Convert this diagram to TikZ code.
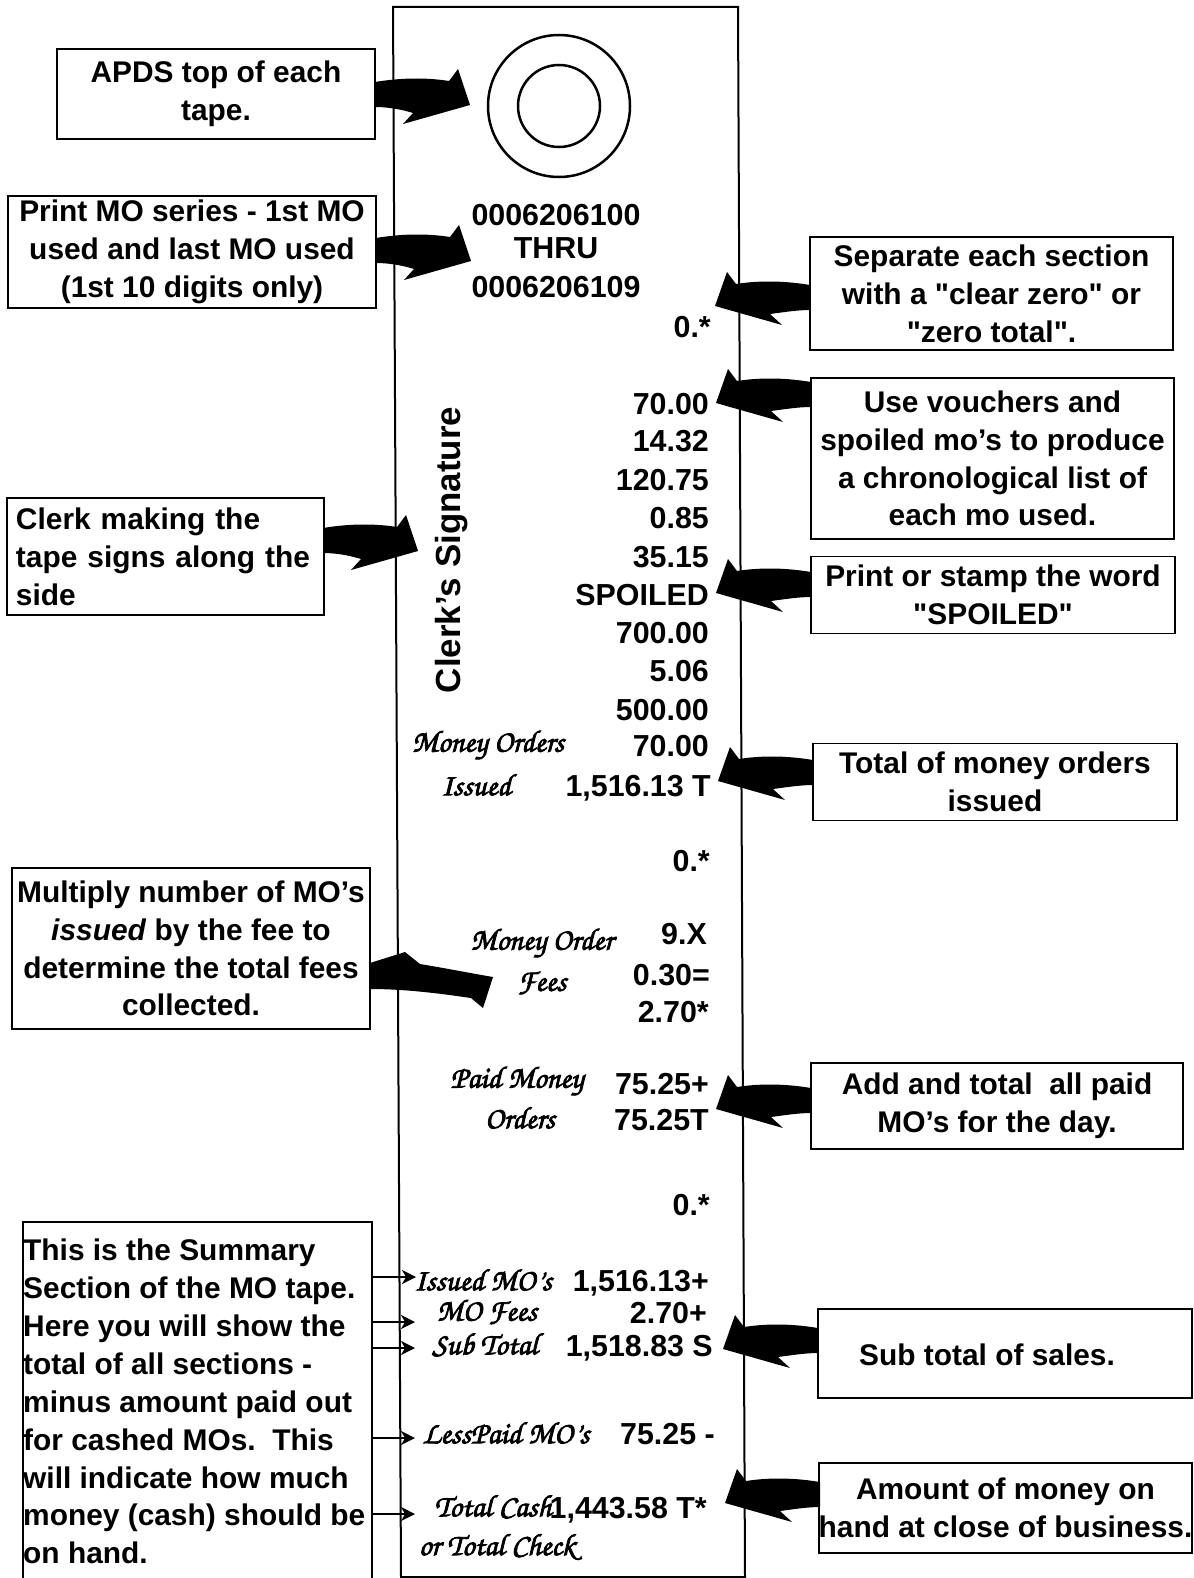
\documentclass[tikz,border=0pt]{standalone}
\usepackage{fontspec}
\setmainfont{Liberation Sans}
\newfontfamily\scrf[FakeBold=2.6]{TeX Gyre Chorus}
\usetikzlibrary{arrows.meta}
\newcommand\bxf{\bfseries\fontsize{30}{38}\selectfont}
\newcommand\tpf{\bfseries\fontsize{30.5}{38}\selectfont}
\newcommand\qq{\XeTeXglyph\XeTeXcharglyph"22\relax}
\newcommand\BigArrR[2]{\fill (#1,#2) .. controls ({#1+30},{#2-5}) and ({#1+55},{#2-4}) .. ({#1+74},{#2-1}) -- ({#1+83},{#2-13}) -- ({#1+95},{#2+23}) -- ({#1+28},{#2+42}) -- ({#1+38},{#2+31}) .. controls ({#1+25},{#2+27}) and ({#1+12},{#2+25}) .. (#1,{#2+25}) -- cycle;}
\newcommand\BigArrL[2]{\fill (#1,#2) .. controls ({#1-30},{#2-5}) and ({#1-55},{#2-4}) .. ({#1-74},{#2-1}) -- ({#1-83},{#2-13}) -- ({#1-95},{#2+21}) -- ({#1-28},{#2+40}) -- ({#1-40},{#2+29}) .. controls ({#1-25},{#2+27}) and ({#1-12},{#2+25}) .. (#1,{#2+25}) -- cycle;}
\begin{document}
\begin{tikzpicture}[x=1bp,y=-1bp,
  box/.style={draw, line width=1.8bp, inner sep=0pt, align=center, font=\bxf},
  num/.style={anchor=base east, inner sep=0pt, font=\tpf},
  hdr/.style={anchor=base, inner sep=0pt, font=\tpf},
  scr/.style={inner sep=0pt, font=\scrf\fontsize{31}{33}\selectfont},
  small/.style={line width=1.6bp, -{Stealth[length=14bp,width=14bp,inset=4bp]}}]
\useasboundingbox (0,0) rectangle (1193,1578);
\fill[white] (0,0) rectangle (1193,1578);
% tape
\draw[line width=2bp] (393,7) -- (738,7) -- (745,1577) -- (401,1577) -- cycle;
\draw[line width=2.5bp] (559,106) circle (71);
\draw[line width=2.5bp] (559,106) circle (41);
% left boxes
\node[box, minimum width=318bp, minimum height=90bp] (apds) at (216,94) {APDS top of each\\tape.};
\node[box, minimum width=368bp, minimum height=112bp] (print) at (192,252) {Print MO series - 1st MO\\used and last MO used\\(1st 10 digits only)};
\node[box, minimum width=317bp, minimum height=117bp, text width=299bp, align=left] (clerk) at (165.5,556.5) {Clerk making the\\tape signs along the\\side};
\node[box, minimum width=358bp, minimum height=161bp] (mult) at (191,948.5) {Multiply number of MO’s\\\textit{issued} by the fee to\\determine the total fees\\collected.};
\draw[line width=1.8bp] (23,1580) -- (23,1222) -- (372,1222) -- (372,1580);
\node[anchor=north west, inner sep=0pt, align=left, font=\bxf] (sumtxt) at (23,1239) {This is the Summary\\Section of the MO tape.\\Here you will show the\\total of all sections -\\minus amount paid out\\for cashed MOs.\ \ This\\will indicate how much\\money (cash) should be\\on hand.};
% right boxes
\node[box, minimum width=363bp, minimum height=113bp] (sep) at (991.5,293.5) {Separate each section\\with a \qq clear zero\qq{} or\\\qq zero total\qq.};
\node[box, minimum width=363bp, minimum height=161bp] (vouch) at (992.5,458.5) {Use vouchers and\\spoiled mo’s to produce\\a chronological list of\\each mo used.};
\node[box, minimum width=364bp, minimum height=77bp] (spoil) at (993,595) {Print or stamp the word\\\qq SPOILED\qq};
\node[box, minimum width=364bp, minimum height=77bp] (totmo) at (995,782) {Total of money orders\\issued};
\node[box, minimum width=372bp, minimum height=86bp] (add) at (997,1106) {Add and total\ \ all paid\\MO’s for the day.};
\draw[line width=1.8bp] (818,1309) rectangle (1192,1398);
\node[inner sep=0pt, font=\bxf] (sub) at (987,1355) {Sub total of sales.};
\node[box, minimum width=371bp, minimum height=90bp] (amt) at (1005.5,1508) {Amount of money on\\hand at close of business.};
% tape text
\node[hdr] (h1) at (556,225) {0006206100};
\node[hdr] (h2) at (556,258) {THRU};
\node[hdr] (h3) at (556,297) {0006206109};
\node[num] (z1) at (711,337) {0.*};
\node[num] (n1) at (709,414) {70.00};
\node[num] (n2) at (709,451) {14.32};
\node[num] (n3) at (709,490) {120.75};
\node[num] (n4) at (709,528) {0.85};
\node[num] (n5) at (709,567) {35.15};
\node[num] (n6) at (709,605) {SPOILED};
\node[num] (n7) at (709,643) {700.00};
\node[num] (n8) at (709,681) {5.06};
\node[num] (n9) at (709,720) {500.00};
\node[num] (n10) at (709,756) {70.00};
\node[num] (n11) at (711,796) {1,516.13 T};
\node[num] (z2) at (710,871) {0.*};
\node[num] (f1) at (707,944) {9.X};
\node[num] (f2) at (710,985) {0.30=};
\node[num] (f3) at (709,1022) {2.70*};
\node[num] (p1) at (709,1094) {75.25+};
\node[num] (p2) at (709,1130) {75.25T};
\node[num] (z3) at (710,1215) {0.*};
\node[num] (s1) at (709,1291) {1,516.13+};
\node[num] (s2) at (707,1323) {2.70+};
\node[num] (s3) at (713,1356) {1,518.83 S};
\node[num] (s4) at (715,1444) {75.25 -};
\node[num] (s5) at (707,1518) {1,443.58 T*};
\node[rotate=90, inner sep=0pt, font=\bfseries\fontsize{35}{40}\selectfont] (sig) at (452,550) {Clerk’s\hspace{0.3em}Signature};
% script labels
\node[scr] (m1) at (488,745) {Money Orders};
\node[scr] (m2) at (476,785) {Issued};
\node[scr] (m3) at (542,943) {Money Order};
\node[scr] (m4) at (542,983) {Fees};
\node[scr] (m5) at (517,1081) {Paid Money};
\node[scr] (m6) at (520,1118) {Orders};
\node[scr] (m7) at (483,1280) {Issued MO’s};
\node[scr] (m8) at (487,1312) {MO Fees};
\node[scr] (m9) at (485,1345) {Sub Total};
\node[scr] (m10) at (506,1433) {LessPaid MO’s};
\node[scr] (m11) at (493,1507) {Total Cash};
\node[scr] (m12) at (497,1547) {or Total Check};
% big arrows
\BigArrR{375}{82}
\BigArrR{376}{238}
\BigArrR{323}{528}
\fill (370,963) -- (405,952) -- (420,964) .. controls (450,969) and (475,974) .. (493,977) -- (483,1008) -- (471,998) .. controls (430,992) and (400,989) .. (370,989) -- cycle;
\BigArrL{810}{285}
\BigArrL{811}{382}
\BigArrL{811}{572}
\BigArrL{813}{760}
\BigArrL{811}{1088}
\BigArrL{818}{1328}
\BigArrL{820}{1482}
% small arrows
\draw[small] (372,1277) -- (416,1277);
\draw[small] (372,1322) -- (415,1322);
\draw[small] (372,1348) -- (415,1348);
\draw[small] (372,1438) -- (415,1438);
\draw[small] (372,1514) -- (415,1514);
\end{tikzpicture}
\end{document}
